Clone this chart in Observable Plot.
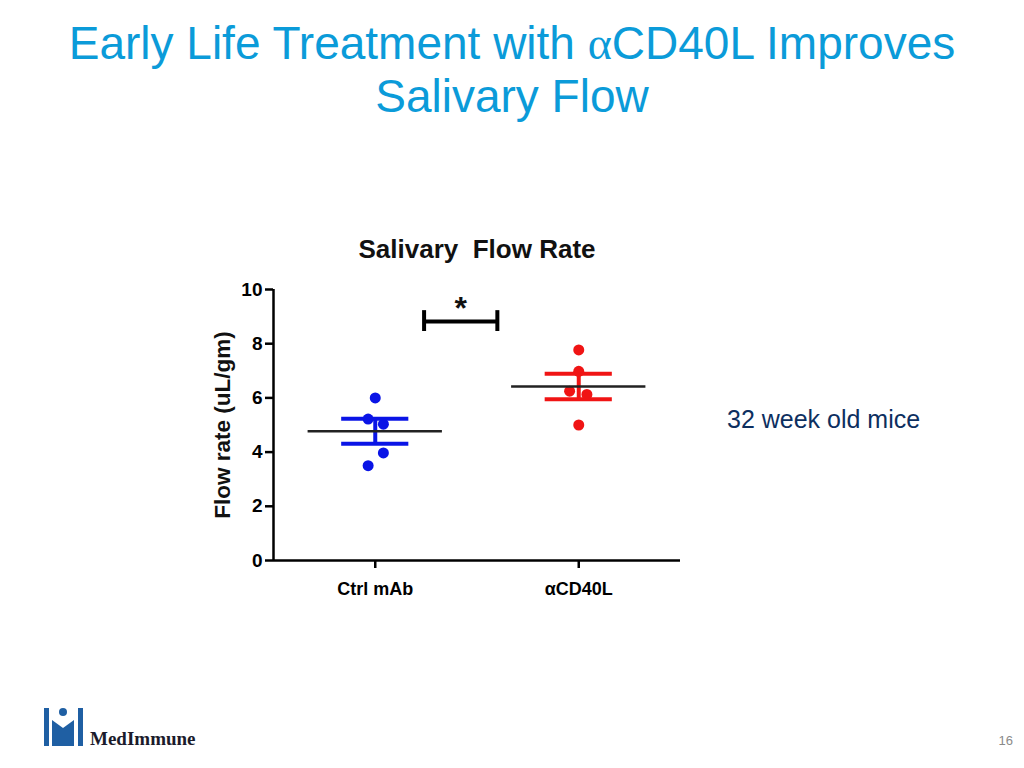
<!DOCTYPE html>
<html>
<head>
<meta charset="utf-8">
<script src="https://cdn.jsdelivr.net/npm/d3@7"></script>
<script src="https://cdn.jsdelivr.net/npm/@observablehq/plot@0.6"></script>
<style>
  html, body { margin: 0; padding: 0; background: #fff; }
  body { width: 1024px; height: 768px; position: relative; overflow: hidden; font-family: "Liberation Sans", Arial, sans-serif; }
  #title { position: absolute; left: 0; top: 17px; width: 1024px; text-align: center; color: #0b9bd9; font-size: 46px; line-height: 53px; }
  #title .greek { font-family: "Liberation Serif", "DejaVu Serif", serif; }
  #note { position: absolute; left: 727px; top: 407px; font-size: 25px; line-height: 25px; color: #0d2f5f; white-space: nowrap; }
  #page { position: absolute; right: 11px; top: 733px; font-size: 13px; color: #8a8a8a; }
  #chart { position: absolute; left: 0; top: 0; }
  #logo { position: absolute; left: 40px; top: 704px; }
</style>
</head>
<body>
<div id="chart"></div>
<div id="title">Early Life Treatment with <span class="greek">α</span>CD40L Improves<br>Salivary Flow</div>
<div id="note">32 week old mice</div>
<div id="page">16</div>
<svg id="logo" width="180" height="44" viewBox="0 0 180 44">
  <rect x="4" y="4" width="5" height="38" fill="#1f5fa3"/>
  <rect x="38" y="4" width="5" height="38" fill="#1f5fa3"/>
  <circle cx="23" cy="8" r="4" fill="#1f5fa3"/>
  <path d="M12 16 L23 24 L34 16 L34 42 L12 42 Z" fill="#1f5fa3"/>
  <text x="50" y="41" font-family="Liberation Serif, DejaVu Serif, serif" font-weight="bold" font-size="19" fill="#1b1b2b">MedImmune</text>
</svg>
<script>
// ---- data ----
const groups = ["Ctrl mAb", "αCD40L"];
const ctrlValues = [6.0, 5.22, 5.03, 3.97, 3.5];
const ctrlJitter = [0, -0.035, 0.04, 0.04, -0.035];
const cd40lValues = [7.77, 6.98, 6.25, 6.13, 5.0];
const cd40lJitter = [0, 0, -0.045, 0.04, 0];
const means = [4.77, 6.42];
const sems = [0.46, 0.47];
const yTicks = [0, 2, 4, 6, 8, 10];
const bracketEnds = [0.24, 0.6];
const bracketLevel = [8.82];
const bracketTickSpan = [8.45, 9.22];
const sigLabel = ["*"];
const groupColors = ["#0a14e6", "#f01414"];

// ---- tables built from the arrays ----
const points = [
  ...ctrlValues.map((v, i) => ({g: 0, value: v, jitter: ctrlJitter[i]})),
  ...cd40lValues.map((v, i) => ({g: 1, value: v, jitter: cd40lJitter[i]}))
];
const summary = groups.map((name, i) => ({g: i, mean: means[i], lo: means[i] - sems[i], hi: means[i] + sems[i]}));
const meanHalf = 0.33, capHalf = 0.165;
const font = "'Liberation Sans', Arial, sans-serif";

const chart = Plot.plot({
  width: 1024,
  height: 768,
  marginLeft: 273,
  marginRight: 344,
  marginTop: 289,
  marginBottom: 208,
  x: {domain: [-0.5, 1.5], axis: null},
  y: {domain: [0, 10], axis: null},
  style: {fontFamily: font, background: "transparent", color: "#000", overflow: "visible"},
  marks: [
    // axes
    Plot.axisY({ticks: yTicks, tickSize: 8, tickPadding: 3, fontSize: 19, fontWeight: "bold", strokeWidth: 2.5, label: null, tickFormat: d => d}),
    Plot.axisX({ticks: [0, 1], tickSize: 8, tickPadding: 14, fontSize: 18, fontWeight: "bold", strokeWidth: 2.5, label: null, tickFormat: i => groups[i]}),
    Plot.ruleX([-0.5], {y1: 0, y2: 10, strokeWidth: 2.5}),
    Plot.ruleY([0], {x1: -0.5, x2: 1.5, strokeWidth: 2.5}),
    // chart title and y label
    Plot.text(["Salivary  Flow Rate"], {frameAnchor: "top", dy: -50, fontSize: 26, fontWeight: "bold", fill: "#111"}),
    Plot.text(["Flow rate (uL/gm)"], {frameAnchor: "left", textAnchor: "middle", dx: -51, rotate: -90, fontSize: 22.5, fontWeight: "bold", fill: "#111"}),
    // points
    Plot.dot(points, {x: d => d.g + d.jitter, y: "value", r: 5.5, fill: d => groupColors[d.g], stroke: "none"}),
    // SEM error bars
    Plot.ruleX(summary, {x: "g", y1: "lo", y2: "hi", stroke: d => groupColors[d.g], strokeWidth: 4}),
    Plot.ruleY(summary, {y: "hi", x1: d => d.g - capHalf, x2: d => d.g + capHalf, stroke: d => groupColors[d.g], strokeWidth: 4}),
    Plot.ruleY(summary, {y: "lo", x1: d => d.g - capHalf, x2: d => d.g + capHalf, stroke: d => groupColors[d.g], strokeWidth: 4}),
    // mean lines
    Plot.ruleY(summary, {y: "mean", x1: d => d.g - meanHalf, x2: d => d.g + meanHalf, stroke: "#222", strokeWidth: 2.5}),
    // significance bracket
    Plot.ruleY(bracketLevel, {x1: bracketEnds[0], x2: bracketEnds[1], strokeWidth: 4}),
    Plot.ruleX(bracketEnds, {y1: bracketTickSpan[0], y2: bracketTickSpan[1], strokeWidth: 4}),
    Plot.text(sigLabel, {x: (bracketEnds[0] + bracketEnds[1]) / 2, y: bracketLevel[0], dy: -2, fontSize: 32, fontWeight: "bold", lineAnchor: "bottom", fill: "#111"})
  ]
});
document.getElementById("chart").appendChild(chart);
</script>
</body>
</html>
